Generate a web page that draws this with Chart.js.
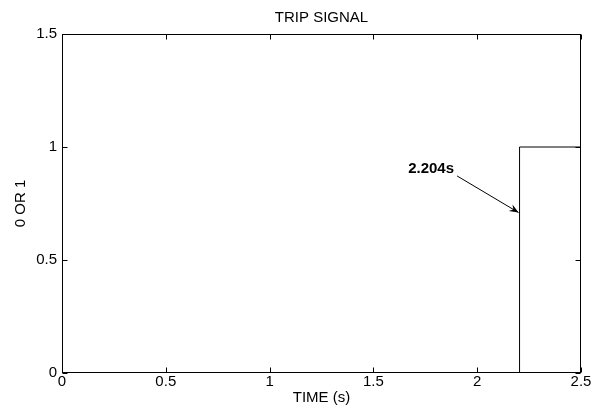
<!DOCTYPE html>
<html>
<head>
<meta charset="utf-8">
<script src="https://cdn.jsdelivr.net/npm/chart.js@4/dist/chart.umd.min.js"></script>
<style>
  html, body { margin: 0; padding: 0; background: #fff; }
  #wrap { width: 602px; height: 410px; }
</style>
</head>
<body>
<div id="wrap"><canvas id="tripChart" width="602" height="410"></canvas></div>
<script>
// trip signal: 0 until the relay trips, then 1
const timePoints = [0, 2.204, 2.204, 2.5];
const tripValues = [0, 0, 1, 1];
const xTickLabels = ['0', '0.5', '1', '1.5', '2', '2.5'];
const yTickLabels = ['0', '0.5', '1', '1.5'];

// annotation: label text and arrow (data coordinates)
const noteText = '2.204s';
const notePos = [1.778, 0.905];
const arrowTail = [1.903, 0.872];
const arrowHead = [2.204, 0.71];

const chartTitle = 'TRIP SIGNAL';
const FONT = '"Liberation Sans", Arial, Helvetica, sans-serif';

const boxPlugin = {
    id: 'matlabBox',
    afterDatasetsDraw(chart) {
        const { ctx, chartArea: a, scales: { x, y } } = chart;
        ctx.save();
        ctx.strokeStyle = '#000';
        ctx.lineWidth = 1;
        // box
        const l = Math.round(a.left) + 0.5, r = Math.round(a.right) - 0.5;
        const t = Math.round(a.top) + 0.5, b = Math.round(a.bottom) - 0.5;
        ctx.strokeRect(l, t, r - l, b - t);
        // inward tick marks
        const tl = 5;
        ctx.beginPath();
        x.ticks.forEach(tk => {
            const px = Math.round(x.getPixelForValue(tk.value)) + 0.5;
            ctx.moveTo(px, b); ctx.lineTo(px, b - tl);
            ctx.moveTo(px, t); ctx.lineTo(px, t + tl);
        });
        y.ticks.forEach(tk => {
            const py = Math.round(y.getPixelForValue(tk.value)) + 0.5;
            ctx.moveTo(l, py); ctx.lineTo(l + tl, py);
            ctx.moveTo(r, py); ctx.lineTo(r - tl, py);
        });
        ctx.stroke();

        // title, centred over the plot box
        ctx.fillStyle = '#000';
        ctx.font = '15px ' + FONT;
        ctx.textAlign = 'center';
        ctx.textBaseline = 'middle';
        ctx.fillText(chartTitle, (a.left + a.right) / 2, 18);

        // annotation text
        ctx.font = 'bold 15px ' + FONT;
        ctx.fillText(noteText, x.getPixelForValue(notePos[0]), y.getPixelForValue(notePos[1]));

        // arrow
        const x0 = x.getPixelForValue(arrowTail[0]), y0 = y.getPixelForValue(arrowTail[1]);
        const x1 = x.getPixelForValue(arrowHead[0]) - 1, y1 = y.getPixelForValue(arrowHead[1]);
        const ang = Math.atan2(y1 - y0, x1 - x0);
        const hl = 10, hw = 0.38;
        ctx.beginPath();
        ctx.moveTo(x0, y0); ctx.lineTo(x1, y1);
        ctx.stroke();
        ctx.beginPath();
        ctx.moveTo(x1, y1);
        ctx.lineTo(x1 - hl * Math.cos(ang - hw), y1 - hl * Math.sin(ang - hw));
        ctx.lineTo(x1 - hl * 0.6 * Math.cos(ang), y1 - hl * 0.6 * Math.sin(ang));
        ctx.lineTo(x1 - hl * Math.cos(ang + hw), y1 - hl * Math.sin(ang + hw));
        ctx.closePath();
        ctx.fill();
        ctx.restore();
    }
};

const ctx = document.getElementById('tripChart').getContext('2d');
const tripChart = new Chart(ctx, {
    type: 'line',
    data: {
        datasets: [{
            label: 'Trip signal',
            data: timePoints.map((t, i) => ({ x: t, y: tripValues[i] })),
            borderColor: '#000',
            borderWidth: 1,
            pointRadius: 0,
            fill: false,
            tension: 0
        }]
    },
    options: {
        responsive: false,
        animation: false,
        events: [],
        layout: { padding: { left: 0, right: 21, top: 34, bottom: 0 } },
        plugins: {
            legend: { display: false },
            tooltip: { enabled: false },
            title: { display: false }
        },
        scales: {
            x: {
                type: 'linear',
                min: 0,
                max: 2.5,
                afterFit: s => { s.height = 37; },
                grid: { display: false, drawTicks: false },
                border: { display: false },
                ticks: {
                    stepSize: 0.5,
                    padding: 0,
                    color: '#000',
                    font: { family: FONT, size: 15 },
                    maxRotation: 0,
                    callback: (v, i) => xTickLabels[i]
                },
                title: {
                    display: true,
                    text: 'TIME (s)',
                    color: '#000',
                    font: { family: FONT, size: 15 },
                    padding: { top: 0, bottom: 3 }
                }
            },
            y: {
                min: 0,
                max: 1.5,
                afterFit: s => { s.width = 62; },
                grid: { display: false, drawTicks: false },
                border: { display: false },
                ticks: {
                    stepSize: 0.5,
                    padding: 5,
                    color: '#000',
                    font: { family: FONT, size: 15 },
                    callback: (v, i) => yTickLabels[i]
                },
                title: {
                    display: true,
                    text: '0 OR 1',
                    color: '#000',
                    font: { family: FONT, size: 15 },
                    padding: { top: 12, bottom: 0 }
                }
            }
        }
    },
    plugins: [boxPlugin]
});
</script>
</body>
</html>
